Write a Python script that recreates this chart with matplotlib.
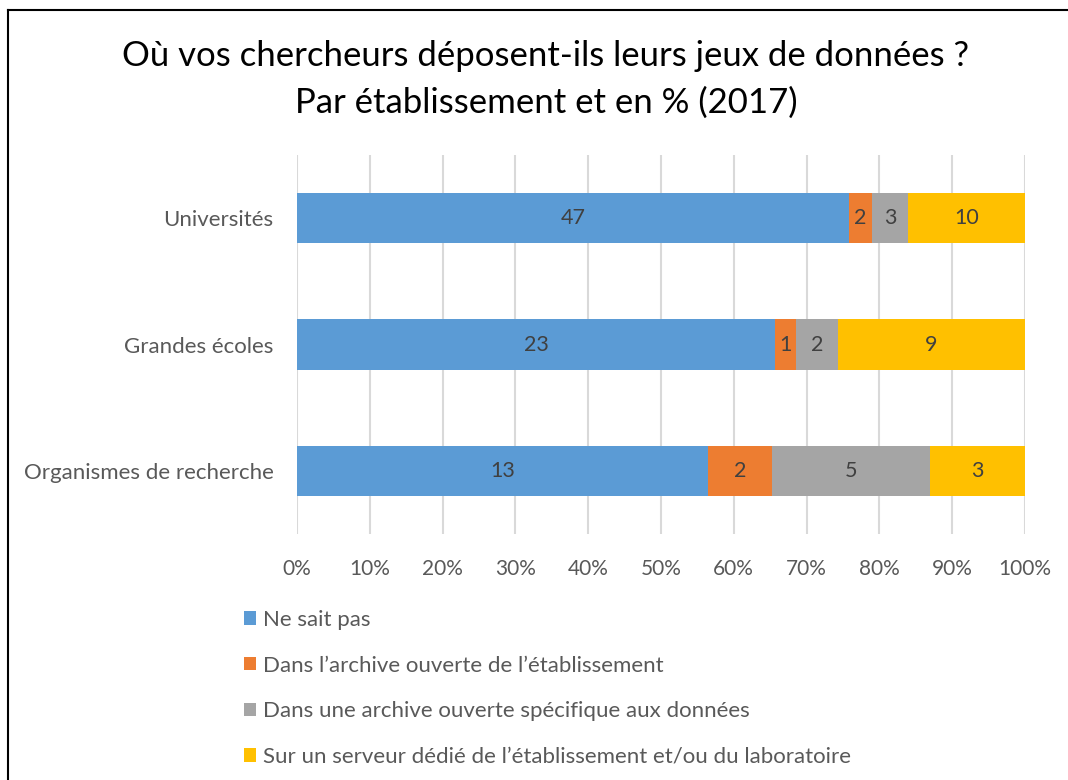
import matplotlib
matplotlib.use("Agg")
import matplotlib.pyplot as plt
from matplotlib.lines import Line2D
import numpy as np

plt.rcParams['font.family'] = ['Lato', 'DejaVu Sans']

categories = ["Universités", "Grandes écoles", "Organismes de recherche"]
series_names = [
    "Ne sait pas",
    "Dans l\u2019archive ouverte de l\u2019établissement",
    "Dans une archive ouverte spécifique aux données",
    "Sur un serveur dédié de l\u2019établissement et/ou du laboratoire",
]
ne_sait_pas = [47, 23, 13]
archive_etab = [2, 1, 2]
archive_donnees = [3, 2, 5]
serveur_dedie = [10, 9, 3]
colors = ["#5B9BD5", "#ED7D31", "#A5A5A5", "#FFC000"]
x_ticks = [0, 10, 20, 30, 40, 50, 60, 70, 80, 90, 100]

W, H = 1068, 780
fig = plt.figure(figsize=(W / 100, H / 100), dpi=100)
ax = fig.add_axes([297 / W, 1 - 534 / H, (1025 - 297) / W, (534 - 155) / H])

counts = np.array([ne_sait_pas, archive_etab, archive_donnees, serveur_dedie], dtype=float)
totals = counts.sum(axis=0)
shares = counts / totals * 100
y = np.arange(len(categories))
left = np.zeros(len(categories))
for i, name in enumerate(series_names):
    bars = ax.barh(y, shares[i], left=left, height=0.4, color=colors[i],
                   label=name, edgecolor="none", zorder=3)
    for j, b in enumerate(bars):
        ax.text(left[j] + shares[i][j] / 2, y[j], f"{int(counts[i][j])}",
                ha="center", va="center", fontsize=15.5, color="#404040", zorder=4)
    left += shares[i]

ax.set_xlim(0, 100)
ax.set_ylim(2.5, -0.5)
ax.set_yticks(y)
ax.set_yticklabels(categories, fontsize=16, color="#595959")
ax.set_xticks(x_ticks)
ax.set_xticklabels([f"{t}%" for t in x_ticks], fontsize=15, color="#595959")
ax.tick_params(axis="both", length=0)
ax.tick_params(axis="x", pad=18)
ax.tick_params(axis="y", pad=17)
ax.grid(axis="x", color="#D9D9D9", linewidth=1.5, zorder=0)
for s in ax.spines.values():
    s.set_visible(False)

fig.text(546 / W, 1 - 56 / H, "Où vos chercheurs déposent-ils leurs jeux de données ?",
         ha="center", va="center", fontsize=25, color="#000000")
fig.text(546 / W, 1 - 103 / H, "Par établissement et en % (2017)",
         ha="center", va="center", fontsize=25, color="#000000")

leg = fig.legend(loc="upper left", bbox_to_anchor=(244 / W, 1 - 610 / H),
                 frameon=False, fontsize=16, labelcolor="#595959",
                 handlelength=0.55, handleheight=0.55, handletextpad=0.3,
                 labelspacing=1.15, borderaxespad=0, borderpad=0)

fig.add_artist(Line2D([8 / W, 8 / W], [0, 1 - 10 / H], transform=fig.transFigure,
                      color="black", linewidth=1.5))
fig.add_artist(Line2D([8 / W, 1], [1 - 10 / H, 1 - 10 / H], transform=fig.transFigure,
                      color="black", linewidth=1.5))

fig.savefig("out.png", dpi=100, facecolor="white")
